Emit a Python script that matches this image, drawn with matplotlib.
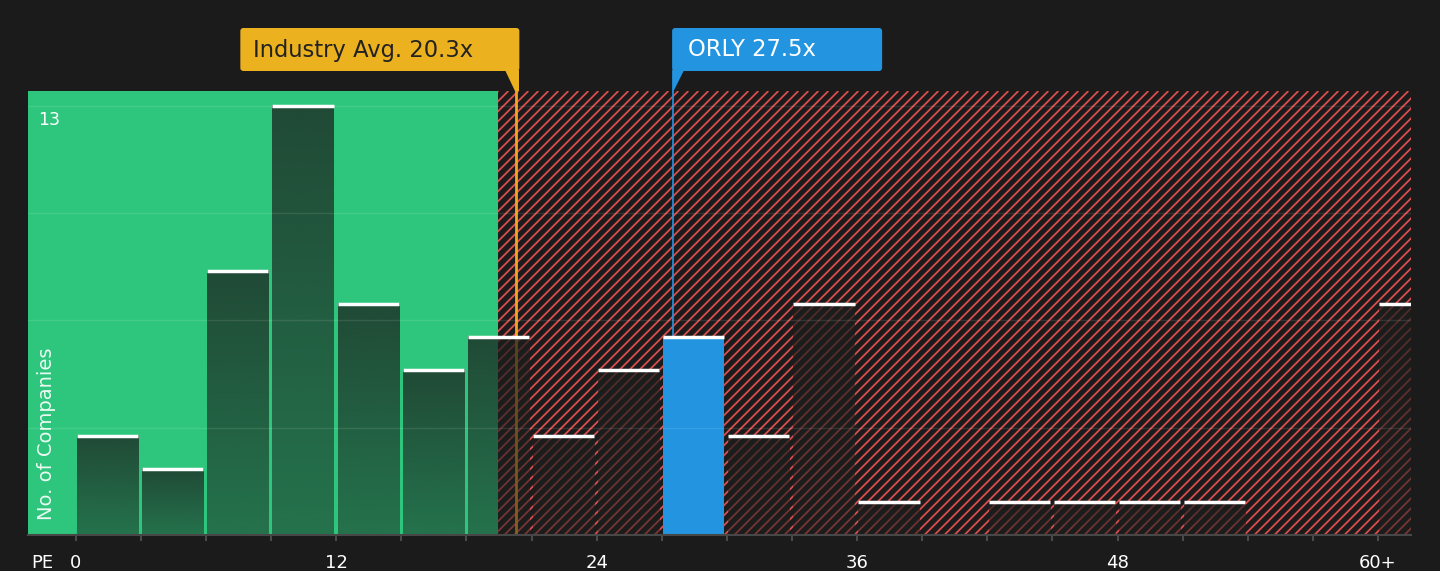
import numpy as np
import matplotlib
matplotlib.use("Agg")
import matplotlib.pyplot as plt
from matplotlib.patches import FancyBboxPatch, Polygon, Rectangle
from matplotlib.collections import LineCollection

# Histogram of PE ratios (bin start -> number of companies)
bin_starts = [0, 3, 6, 9, 12, 15, 18, 21, 24, 27, 30, 33, 36, 39, 42, 45, 48, 51, 54, 57, 60]
counts = [3, 2, 8, 13, 7, 5, 6, 3, 5, 6, 3, 7, 1, 0, 1, 1, 1, 1, 0, 0, 7]
bin_width = 3
highlight_bin = 27

tick_values = [0, 12, 24, 36, 48, 60]
tick_labels = ["0", "12", "24", "36", "48", "60+"]
grid_values = [3.25, 6.5, 9.75, 13]
y_top_label = "13"

industry_avg = 20.3
company_pe = 27.5
company_name = "ORLY"
fair_limit = 19.47

BG = "#1b1b1b"
GREEN = "#2dc67c"
RED = "#d84e4e"
BLUE = "#2394e0"
YELLOW = "#ecb11f"
ORANGE = "#f2a51e"

W, H = 1440, 571
fig = plt.figure(figsize=(W / 100, H / 100), dpi=100, facecolor=BG)
ax = fig.add_axes([28 / W, 36 / H, 1383 / W, 444 / H])
ax.set_facecolor(BG)

xmin, xmax = -2.2, 61.52
ymax = 13.45
ax.set_xlim(xmin, xmax)
ax.set_ylim(0, ymax)

# Background zones: green below the fair value, red hatching above
ax.axvspan(xmin, fair_limit, color=GREEN, lw=0, zorder=0)
red_zone = Rectangle((fair_limit, 0), xmax - fair_limit, ymax, fc=BG, lw=0, zorder=0)
ax.add_patch(red_zone)

# 45 degree hatch lines, ~10 px apart
(p0x, p0y), (p1x, p1y) = ax.transData.transform([(0, 0), (1, 1)])
px_x, px_y = p1x - p0x, p1y - p0y
rise = ymax * px_y / px_x
step = 10.0 / px_x
starts = np.arange(fair_limit - rise, xmax + step, step)
segs = [[(c, 0), (c + rise, ymax)] for c in starts]
hatch = LineCollection(segs, colors=RED, linewidths=1.3, zorder=0.5)
ax.add_collection(hatch)
hatch.set_clip_path(red_zone)

# Reference lines (drawn under the bars)
ax.axvline(industry_avg, color=ORANGE, lw=2, zorder=1)
ax.axvline(company_pe, color=BLUE, lw=1.2, zorder=1)

# Dark gradient used for the normal bars
rows = 64
grad = np.zeros((rows, 1, 4))
grad[:, 0, 0] = 28 / 255
grad[:, 0, 1] = 30 / 255
grad[:, 0, 2] = 29 / 255
grad[:, 0, 3] = np.linspace(0.74, 0.5, rows)

for start, n in zip(bin_starts, counts):
    if n == 0:
        continue
    x0 = start + 0.06
    w = bin_width - 0.18
    if start == highlight_bin:
        ax.bar(x0, n, width=w, align="edge", color=BLUE, lw=0, zorder=3)
    else:
        ax.imshow(grad, extent=[x0, x0 + w, 0, n], aspect="auto",
                  interpolation="bilinear", zorder=3)
    ax.plot([x0, x0 + w], [n, n], color="white", lw=2.5,
            solid_capstyle="butt", zorder=5)

for g in grid_values:
    ax.axhline(g, color="white", alpha=0.1, lw=1, zorder=4)

ax.set_xlim(xmin, xmax)
ax.set_ylim(0, ymax)

# Axes styling
for side in ["top", "right", "left"]:
    ax.spines[side].set_visible(False)
ax.spines["bottom"].set_color("#474747")
ax.spines["bottom"].set_linewidth(1.5)
ax.spines["bottom"].set_zorder(6)
ax.set_xticks(tick_values, tick_labels)
ax.set_xticks(bin_starts, minor=True)
ax.tick_params(axis="x", which="both", color="#555555", length=4.5, width=1.2,
               labelcolor="white", labelsize=13, pad=9)
ax.set_yticks([])

ax.annotate("PE", xy=(0.0101, 0), xycoords="axes fraction", xytext=(0, -13.5),
            textcoords="offset points", ha="center", va="top", color="white", fontsize=13)
ax.annotate(y_top_label, xy=(0, 13), xycoords=("axes fraction", "data"), xytext=(7, -4),
            textcoords="offset points", ha="left", va="top", color="white", fontsize=12.5,
            zorder=6)
ax.text(0.0137, 0.034, "No. of Companies", transform=ax.transAxes, rotation=90,
        ha="center", va="bottom", color="white", alpha=0.9, fontsize=14, zorder=6)

# Callout boxes on a pixel overlay
ov = fig.add_axes([0, 0, 1, 1], zorder=10)
ov.set_xlim(0, W)
ov.set_ylim(H, 0)
ov.axis("off")
ov.patch.set_alpha(0)

ix, iy = ax.transData.transform((industry_avg, ymax))
iy = H - iy
right = ix + 3
box_w = 279
ov.add_patch(FancyBboxPatch((right - box_w, 28), box_w, 43,
                            boxstyle="round,pad=0,rounding_size=3", fc=YELLOW, lw=0))
ov.add_patch(Polygon([(right - 14, 70), (right, 70), (right, iy), (ix - 1, iy)],
                     closed=True, fc=YELLOW, lw=0))
ov.text(right - box_w + 13, 50, f"Industry Avg. {industry_avg}x", ha="left", va="center",
        fontsize=16.3, color="#222222")

bx, by = ax.transData.transform((company_pe, ymax))
by = H - by
left = bx - 0.5
box_w = 210
ov.add_patch(FancyBboxPatch((left, 28), box_w, 43,
                            boxstyle="round,pad=0,rounding_size=3", fc=BLUE, lw=0))
ov.add_patch(Polygon([(left, 70), (left + 12, 70), (left + 1, by + 1), (left, by + 1)],
                     closed=True, fc=BLUE, lw=0))
ov.text(left + 16, 50, f"{company_name} {company_pe}x", ha="left", va="center",
        fontsize=16.3, color="white")

fig.savefig("out.png", dpi=100, facecolor=BG)
